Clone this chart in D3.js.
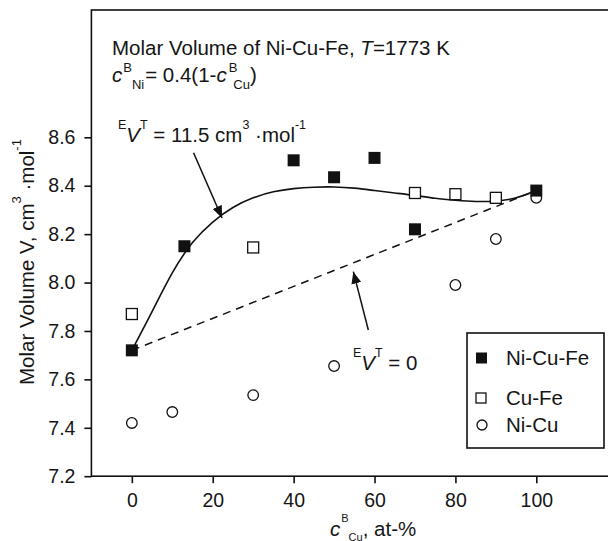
<!DOCTYPE html>
<html>
<head>
<meta charset="utf-8">
<script src="https://cdn.jsdelivr.net/npm/d3@7"></script>
<style>
  body { margin: 0; background: #fff; }
  svg text { font-family: "Liberation Sans", Arial, Helvetica, sans-serif; fill: #151515; }
</style>
</head>
<body>
<script>
// chart size
const c_width = 608;
const c_height = 541;

// data
const xTicks = [0, 20, 40, 60, 80, 100];
const yTicks = [7.2, 7.4, 7.6, 7.8, 8.0, 8.2, 8.4, 8.6];

const niCuFeX = [0, 13, 40, 50, 60, 70, 100];
const niCuFeV = [7.72, 8.15, 8.505, 8.435, 8.515, 8.22, 8.38];

const cuFeX = [0, 30, 70, 80, 90];
const cuFeV = [7.87, 8.145, 8.37, 8.365, 8.35];

const niCuX = [0, 10, 30, 50, 80, 90, 100];
const niCuV = [7.42, 7.465, 7.535, 7.655, 7.99, 8.18, 8.35];

// calculated curve, EV^T = 11.5
const fitX = [0, 5, 10, 15, 20, 25, 30, 35, 40, 45, 50, 55, 60, 65, 70, 75, 80, 85, 90, 95, 100];
const fitV = [7.72, 7.88, 8.04, 8.165, 8.25, 8.31, 8.35, 8.375, 8.388, 8.394, 8.395, 8.39, 8.38, 8.37, 8.36, 8.348, 8.34, 8.335, 8.337, 8.35, 8.38];

// ideal line, EV^T = 0
const idealX = [0, 100];
const idealV = [7.72, 8.38];

const legendNames = ['Ni-Cu-Fe', 'Cu-Fe', 'Ni-Cu'];

const svg = d3.select('body').append('svg')
  .attr('width', c_width)
  .attr('height', c_height);

const x = d3.scaleLinear().domain([-10, 120]).range([91.4, 617.2]);
const y = d3.scaleLinear().domain([7.2, 9.126]).range([476.2, 10]);

const zip = (a, b) => a.map((d, i) => [d, b[i]]);

// arrow head
svg.append('defs').append('marker')
  .attr('id', 'head')
  .attr('viewBox', '0 0 12 10')
  .attr('refX', 12).attr('refY', 5)
  .attr('markerWidth', 12).attr('markerHeight', 10)
  .attr('markerUnits', 'userSpaceOnUse')
  .attr('orient', 'auto')
  .append('path').attr('d', 'M0,0 L12,5 L0,10 Z').attr('fill', '#111');

// frame
svg.append('rect')
  .attr('x', x(-10)).attr('y', y(9.126))
  .attr('width', x(120) - x(-10)).attr('height', y(7.2) - y(9.126))
  .attr('fill', 'none').attr('stroke', '#111').attr('stroke-width', 1.6);

// axes
const yAxis = svg.append('g')
  .attr('transform', 'translate(' + x(-10) + ',0)')
  .call(d3.axisLeft(y).tickValues(yTicks).tickSize(7).tickPadding(9).tickFormat(d3.format('.1f')));
const xAxis = svg.append('g')
  .attr('transform', 'translate(0,' + y(7.2) + ')')
  .call(d3.axisBottom(x).tickValues(xTicks).tickSize(7).tickPadding(9.5));
[xAxis, yAxis].forEach(a => {
  a.select('.domain').remove();
  a.selectAll('line').attr('stroke', '#111').attr('stroke-width', 1.6);
  a.selectAll('text').style('font-size', '19.5px').attr('fill', '#151515');
});

// lines
const line = d3.line().x(d => x(d[0])).y(d => y(d[1]));
svg.append('path')
  .attr('d', line(zip(idealX, idealV)))
  .attr('fill', 'none').attr('stroke', '#111').attr('stroke-width', 1.5)
  .attr('stroke-dasharray', '8,6');
svg.append('path')
  .attr('d', line.curve(d3.curveNatural)(zip(fitX, fitV)))
  .attr('fill', 'none').attr('stroke', '#111').attr('stroke-width', 1.6);

// points
svg.append('g').selectAll('circle')
  .data(zip(niCuX, niCuV)).enter().append('circle')
  .attr('cx', d => x(d[0])).attr('cy', d => y(d[1])).attr('r', 5.3)
  .attr('fill', '#fff').attr('stroke', '#111').attr('stroke-width', 1.3);
svg.append('g').selectAll('rect')
  .data(zip(cuFeX, cuFeV)).enter().append('rect')
  .attr('x', d => x(d[0]) - 5.5).attr('y', d => y(d[1]) - 5.5)
  .attr('width', 11).attr('height', 11)
  .attr('fill', '#fff').attr('stroke', '#111').attr('stroke-width', 1.3);
svg.append('g').selectAll('rect')
  .data(zip(niCuFeX, niCuFeV)).enter().append('rect')
  .attr('x', d => x(d[0]) - 6).attr('y', d => y(d[1]) - 6)
  .attr('width', 12).attr('height', 12)
  .attr('fill', '#111');

// arrows
const arrow = (x1, v1, x2, v2) => svg.append('line')
  .attr('x1', x(x1)).attr('y1', y(v1)).attr('x2', x(x2)).attr('y2', y(v2))
  .attr('stroke', '#111').attr('stroke-width', 1.5)
  .attr('marker-end', 'url(#head)');
arrow(15.25, 8.536, 22.3, 8.267);
arrow(58.47, 7.804, 54.76, 8.045);

// helper for text with super/subscripts
function rich(g, px, py, parts, attrs) {
  const t = g.append('text').attr('x', px).attr('y', py);
  if (attrs) Object.keys(attrs).forEach(k => t.attr(k, attrs[k]));
  parts.forEach(p => {
    const s = t.append('tspan').text(p.t).style('font-size', (p.s || 20.5) + 'px');
    if (p.dy) s.attr('dy', p.dy);
    if (p.dx) s.attr('dx', p.dx);
    if (p.i) s.style('font-style', 'italic');
  });
  return t;
}

// title block
rich(svg, 112, 55, [{t: 'Molar Volume of Ni-Cu-Fe, '}, {t: 'T', i: 1}, {t: '=1773 K'}]);
rich(svg, 112, 82, [
  {t: 'c', i: 1}, {t: 'B', s: 13, dy: -10, dx: 1}, {t: 'Ni', s: 13, dy: 17}, {t: '= 0.4(1-', dy: -7, dx: 1},
  {t: 'c', i: 1}, {t: 'B', s: 13, dy: -10, dx: 2}, {t: 'Cu', s: 13, dy: 17, dx: -4}, {t: ')', dy: -7}
]);

// annotations
rich(svg, 118, 142, [
  {t: 'E', s: 12.5, dy: -13}, {t: 'V', i: 1, dy: 13}, {t: 'T', s: 12.5, dy: -13},
  {t: ' = 11.5 cm', dy: 13}, {t: '3', s: 12.5, dy: -13}, {t: ' \u00b7mol', dy: 13}, {t: '-1', s: 12.5, dy: -13}
]);
rich(svg, 353, 370, [
  {t: 'E', s: 12.5, dy: -13}, {t: 'V', i: 1, dy: 13}, {t: 'T', s: 12.5, dy: -13}, {t: ' = 0', dy: 13}
]);

// axis titles
rich(svg, 330, 536, [
  {t: 'c', i: 1}, {t: 'B', s: 11, dy: -14, dx: 1}, {t: 'Cu', s: 11, dy: 18.5}, {t: ', at-%', dy: -4.5}
]);
rich(svg, 0, 0, [
  {t: 'Molar Volume V, cm'}, {t: '3', s: 13, dy: -13}, {t: ' \u00b7mol', dy: 13}, {t: '-1', s: 13, dy: -13}
], {transform: 'translate(33.5,385) rotate(-90)'});

// legend
const legend = svg.append('g').attr('id', 'legend');
legend.append('rect')
  .attr('x', 467).attr('y', 333).attr('width', 137).attr('height', 115)
  .attr('fill', '#fff').attr('stroke', '#111').attr('stroke-width', 1.6);
const rowY = [358, 398, 425];
legend.append('rect').attr('x', 476).attr('y', rowY[0] - 5.5).attr('width', 11).attr('height', 11).attr('fill', '#111');
legend.append('rect').attr('x', 476).attr('y', rowY[1] - 5).attr('width', 10).attr('height', 10)
  .attr('fill', '#fff').attr('stroke', '#111').attr('stroke-width', 1.3);
legend.append('circle').attr('cx', 482).attr('cy', rowY[2]).attr('r', 5)
  .attr('fill', '#fff').attr('stroke', '#111').attr('stroke-width', 1.3);
legend.selectAll('text.lab')
  .data(legendNames).enter().append('text')
  .attr('class', 'lab')
  .attr('x', 506).attr('y', (d, i) => rowY[i] + 7)
  .style('font-size', '20.5px')
  .text(d => d);
</script>
</body>
</html>
